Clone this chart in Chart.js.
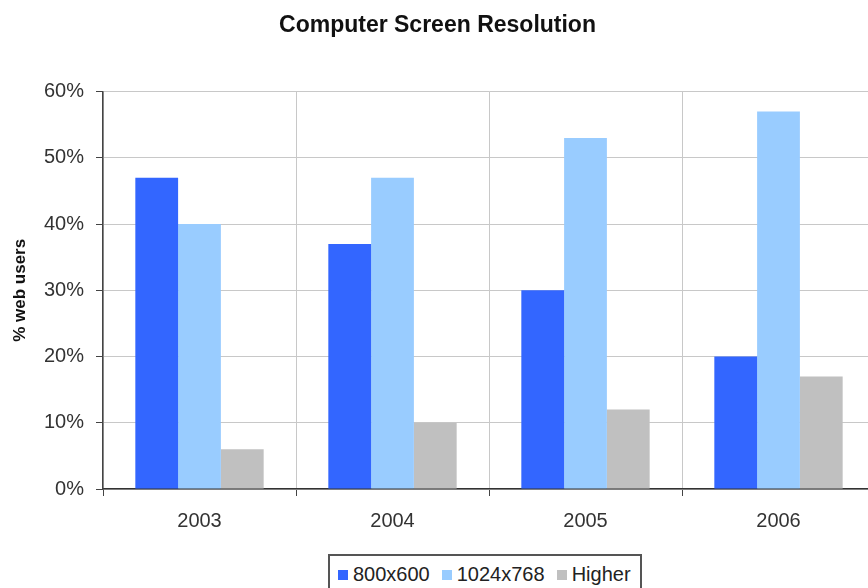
<!DOCTYPE html>
<html>
<head>
<meta charset="utf-8">
<script src="https://cdn.jsdelivr.net/npm/chart.js@4"></script>
<style>
  body { margin: 0; background: #fff; overflow: hidden; }
  #wrap { position: relative; width: 880px; height: 588px; }
  #legend {
    position: absolute; left: 328px; top: 554px; width: 314px; height: 40px;
    border: 2px solid #555; box-sizing: border-box; background: #fff;
    font: 20px "Liberation Sans", Arial, sans-serif; color: #222;
    display: flex; align-items: flex-start; padding: 7px 0 0 8px; gap: 12px;
  }
  #legend span.item { display: flex; align-items: center; }
  #legend span.sq { display: inline-block; width: 10px; height: 10px; margin-right: 5px; }
</style>
</head>
<body>
<div id="wrap">
  <canvas id="grafico" width="880" height="588"></canvas>
  <div id="legend"></div>
</div>
<script>
// Datos del gráfico
const anios = ['2003', '2004', '2005', '2006'];
const res800 = [47, 37, 30, 20];
const res1024 = [40, 47, 53, 57];
const resMayor = [6, 10, 12, 17];
const nombresSeries = ['800x600', '1024x768', 'Higher'];
const coloresSeries = ['#3366ff', '#99ccff', '#c0c0c0'];

const fuente = '"Liberation Sans", Arial, sans-serif';

const series = [res800, res1024, resMayor].map((datos, i) => ({
    label: nombresSeries[i],
    data: datos,
    backgroundColor: coloresSeries[i],
    borderWidth: 0
}));

const ctx = document.getElementById('grafico').getContext('2d');
new Chart(ctx, {
    type: 'bar',
    data: { labels: anios, datasets: series },
    options: {
        responsive: false,
        animation: false,
        layout: { padding: { left: 0, right: 5, top: 0, bottom: 0 } },
        datasets: { bar: { barPercentage: 1, categoryPercentage: 0.665 } },
        plugins: {
            legend: { display: false },
            tooltip: { enabled: false },
            title: {
                display: true,
                text: 'Computer Screen Resolution',
                color: '#111',
                font: { family: fuente, size: 23, weight: 'bold' },
                padding: { top: 12, bottom: 52 }
            }
        },
        scales: {
            x: {
                grid: { color: '#c8c8c8', tickColor: '#444', tickLength: 7, offset: true },
                border: { color: '#333', width: 1.5 },
                ticks: { color: '#333', padding: 13, font: { family: fuente, size: 20 } },
                afterFit: (escala) => { escala.height = 99; }
            },
            y: {
                min: 0, max: 60,
                grid: { color: '#c8c8c8', tickColor: '#444', tickLength: 7 },
                border: { color: '#444', width: 1.5 },
                ticks: {
                    stepSize: 10, color: '#333', padding: 12,
                    font: { family: fuente, size: 20 },
                    callback: (v) => v + '%'
                },
                title: {
                    display: true, text: '% web users', color: '#111',
                    font: { family: fuente, size: 17, weight: 'bold' },
                    padding: { top: 10, bottom: 0 }
                },
                afterFit: (escala) => { escala.width = 103; }
            }
        }
    }
});

// Leyenda con borde, como en el original
const leyenda = document.getElementById('legend');
nombresSeries.forEach((nombre, i) => {
    const item = document.createElement('span');
    item.className = 'item';
    item.innerHTML = `<span class="sq" style="background:${coloresSeries[i]}"></span>${nombre}`;
    leyenda.appendChild(item);
});
</script>
</body>
</html>
